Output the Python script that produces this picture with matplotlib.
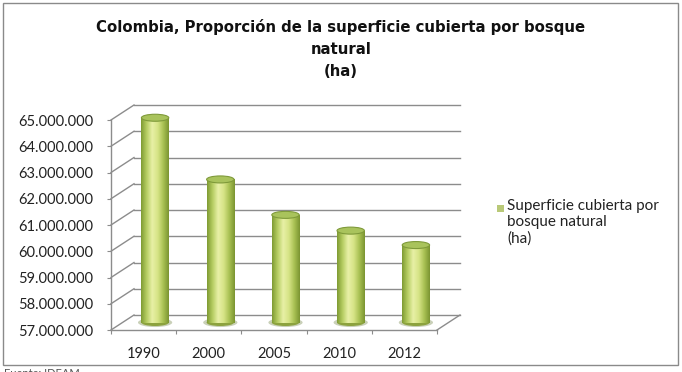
import numpy as np
import matplotlib
matplotlib.use("Agg")
import matplotlib.pyplot as plt
import matplotlib.transforms as mtransforms
from matplotlib.patches import Rectangle, Ellipse
from matplotlib.colors import LinearSegmentedColormap

plt.rcParams['font.family'] = ['Lato', 'DejaVu Sans']

# ---- data ----
years = ['1990', '2000', '2005', '2010', '2012']
superficie = [64800000, 62450000, 61100000, 60500000, 59950000]
y_ticks = [57000000, 58000000, 59000000, 60000000, 61000000, 62000000, 63000000, 64000000, 65000000]
title = 'Colombia, Proporción de la superficie cubierta por bosque\nnatural\n(ha)'
legend_label = 'Superficie cubierta por\nbosque natural\n(ha)'

W, H, DPI = 682, 372, 100
fig = plt.figure(figsize=(W / DPI, H / DPI), dpi=DPI)
fig.patch.set_facecolor('white')

ax = fig.add_axes([111 / W, (H - 330) / H, 326 / W, 210 / H])
ymin, ymax = y_ticks[0], y_ticks[-1]
ax.set_xlim(-0.5, len(years) - 0.5)
ax.set_ylim(ymin, ymax)
for s in ax.spines.values():
    s.set_visible(False)
ax.patch.set_alpha(0)

grid_c = '#8c8c8c'
DX, DY = 23 * 72 / DPI, 15 * 72 / DPI
back = ax.transData + mtransforms.ScaledTranslation(DX / 72, DY / 72, fig.dpi_scale_trans)
mid = ax.transData + mtransforms.ScaledTranslation(DX / 144, DY / 144, fig.dpi_scale_trans)

x0, x1 = -0.5, len(years) - 0.5
for v in y_ticks:
    ax.plot([x0, x1], [v, v], color=grid_c, lw=1.0, transform=back, clip_on=False)
    p_front = ax.transData.transform((x0, v))
    p_back = back.transform((x0, v))
    ax.plot([p_front[0], p_back[0]], [p_front[1], p_back[1]], color=grid_c, lw=1.0,
            transform=None, clip_on=False)
ax.plot([x0, x1], [ymin, ymin], color=grid_c, lw=1.0, clip_on=False)
pf = ax.transData.transform((x1, ymin)); pb = back.transform((x1, ymin))
ax.plot([pf[0], pb[0]], [pf[1], pb[1]], color=grid_c, lw=1.0, transform=None, clip_on=False)
ax.plot([x0, x0], [ymin, ymax], color=grid_c, lw=1.0, clip_on=False)

ax.set_yticks(y_ticks)
ax.set_yticklabels([f"{v:,.0f}".replace(',', '.') for v in y_ticks], fontsize=10.5, color='#222222')
ax.tick_params(axis='y', length=3, color=grid_c, pad=10)
ax.set_xticks(np.arange(-0.5, len(years), 1.0))
ax.set_xticklabels([''] * (len(years) + 1))
ax.tick_params(axis='x', which='major', length=3, color=grid_c)
ax.set_xticks(np.arange(len(years)), minor=True)
ax.set_xticklabels(years, minor=True, fontsize=10.5, color='#222222')
ax.tick_params(axis='x', which='minor', length=0, pad=12)

cmap = LinearSegmentedColormap.from_list('cyl', ['#7e9a32', '#b6cd62', '#e8f0a6', '#d6e486', '#a9c153', '#7a9430'])
grad = np.linspace(0, 1, 256).reshape(1, -1)
bw = 0.42
px_per_unit = ax.bbox.height / (ymax - ymin)
ell_h = 7 / px_per_unit
for i, v in enumerate(superficie):
    ax.add_patch(Ellipse((i, ymin), bw * 1.25, ell_h * 1.3, transform=mid,
                         facecolor='#c9d0b8', edgecolor='none', zorder=3, clip_on=False))
    ax.add_patch(Ellipse((i, ymin), bw, ell_h, transform=mid,
                         facecolor='#8ca23e', edgecolor='none', zorder=4, clip_on=False))
    im = ax.imshow(grad, cmap=cmap, aspect='auto', extent=[i - bw / 2, i + bw / 2, ymin, v],
                   transform=mid, zorder=5, interpolation='bilinear')
    clip = Rectangle((i - bw / 2, ymin), bw, v - ymin, transform=mid, facecolor='none',
                     edgecolor='none', clip_on=False)
    ax.add_patch(clip)
    im.set_clip_path(clip)
    ax.add_patch(Ellipse((i, v), bw, ell_h, transform=mid,
                         facecolor='#a9c35c', edgecolor='#7f9a3a', lw=0.8, zorder=6, clip_on=False))
ax.set_xlim(-0.5, len(years) - 0.5)
ax.set_ylim(ymin, ymax)

fig.text(341 / W, 1 - 19 / H, title, ha='center', va='top', fontsize=10.7, fontweight='bold',
         family=['DejaVu Sans'], color='#111111', linespacing=1.6)

fig.patches.append(Rectangle((497 / W, 1 - 212 / H), 7 / W, 7 / H, transform=fig.transFigure,
                             facecolor='#b9c978', edgecolor='none'))
fig.text(507 / W, 1 - 199 / H, legend_label, ha='left', va='top', fontsize=11,
         color='#222222', linespacing=1.2)

fig.patches.append(Rectangle((3 / W, 1 - 365 / H), 675 / W, 362 / H, transform=fig.transFigure,
                             facecolor='none', edgecolor='#8a8a8a', lw=1.0))
fig.text(4 / W, 1 - 368 / H, 'Fuente: IDEAM', ha='left', va='top', fontsize=8, color='#555555')

fig.savefig('out.png', dpi=DPI)
